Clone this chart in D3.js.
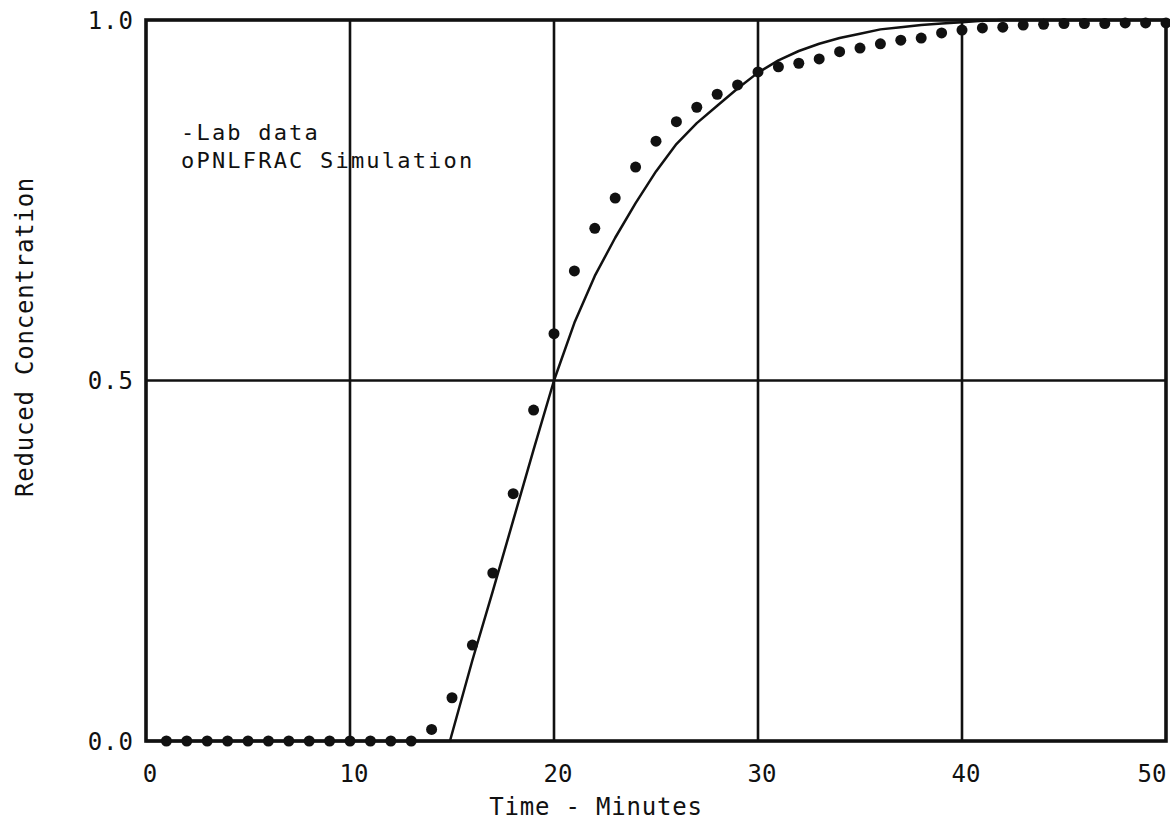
<!DOCTYPE html>
<html>
<head>
<meta charset="utf-8">
<script src="https://cdn.jsdelivr.net/npm/d3@7"></script>
<style>
  html, body { margin: 0; padding: 0; background: #fff; }
  svg text { font-family: "DejaVu Sans Mono", monospace; fill: #111; }
</style>
</head>
<body>
<div id="chart"></div>
<script>
// simulation points, one per minute
const simMinutes = d3.range(1, 51);
const simValues = [
  0, 0, 0, 0, 0, 0, 0, 0, 0, 0,
  0, 0, 0, 0.016, 0.06, 0.133, 0.233, 0.343, 0.459, 0.565,
  0.652, 0.711, 0.753, 0.796, 0.832, 0.859, 0.879, 0.897, 0.91, 0.928,
  0.935, 0.94, 0.946, 0.956, 0.961, 0.967, 0.972, 0.975, 0.982, 0.986,
  0.989, 0.99, 0.993, 0.994, 0.995, 0.995, 0.995, 0.996, 0.996, 0.996,
];

// lab data curve
const labMinutes = [0, 14.9, 16, 17, 18, 19, 20, 21, 22, 23, 24, 25, 26, 27, 28, 29, 30, 31, 32, 33, 34, 35, 36, 37, 38, 39, 40, 41, 42, 50];
const labValues = [0, 0, 0.112, 0.208, 0.306, 0.404, 0.5, 0.58, 0.645, 0.698, 0.746, 0.79, 0.828, 0.857, 0.881, 0.905, 0.927, 0.944, 0.957, 0.967, 0.975, 0.981, 0.987, 0.99, 0.993, 0.995, 0.997, 0.999, 1, 1];

const xTicks = [0, 10, 20, 30, 40, 50];
const yTicks = [0, 0.5, 1.0];
const xGrid = [10, 20, 30, 40];
const yGrid = [0.5];
const legendLines = ["-Lab data", "oPNLFRAC Simulation"];

const width = 1170;
const height = 837;

const svg = d3
  .select("#chart")
  .append("svg")
  .attr("width", width)
  .attr("height", height);

const x = d3.scaleLinear().domain([0, 50]).range([146, 1166]);
const y = d3.scaleLinear().domain([0, 1]).range([741, 20]);

// grid
svg
  .selectAll("line.vgrid")
  .data(xGrid)
  .enter()
  .append("line")
  .attr("class", "vgrid")
  .attr("x1", (d) => x(d))
  .attr("x2", (d) => x(d))
  .attr("y1", y(0))
  .attr("y2", y(1))
  .style("stroke", "#111")
  .style("stroke-width", 2.6);

svg
  .selectAll("line.hgrid")
  .data(yGrid)
  .enter()
  .append("line")
  .attr("class", "hgrid")
  .attr("x1", x(0))
  .attr("x2", x(50))
  .attr("y1", (d) => y(d))
  .attr("y2", (d) => y(d))
  .style("stroke", "#111")
  .style("stroke-width", 2.4);

// frame
svg
  .append("rect")
  .attr("x", x(0))
  .attr("y", y(1))
  .attr("width", x(50) - x(0))
  .attr("height", y(0) - y(1))
  .style("fill", "none")
  .style("stroke", "#111")
  .style("stroke-width", 3.6);

// lab curve
const line = d3
  .line()
  .x((d, i) => x(labMinutes[i]))
  .y((d) => y(d));

svg
  .append("path")
  .datum(labValues)
  .attr("d", line)
  .style("fill", "none")
  .style("stroke", "#111")
  .style("stroke-width", 2.5)
  .style("stroke-linejoin", "round");

// simulation points
svg
  .selectAll("circle.sim")
  .data(simValues)
  .enter()
  .append("circle")
  .attr("class", "sim")
  .attr("cx", (d, i) => x(simMinutes[i]))
  .attr("cy", (d) => y(d))
  .attr("r", 5.5)
  .style("fill", "#111");

// axis labels
svg
  .selectAll("text.xtick")
  .data(xTicks)
  .enter()
  .append("text")
  .attr("class", "xtick")
  .attr("x", (d) => (d === 50 ? x(d) - 14 : x(d) + 4))
  .attr("y", 782)
  .attr("text-anchor", "middle")
  .style("font-size", "24px")
  .text((d) => d);

svg
  .selectAll("text.ytick")
  .data(yTicks)
  .enter()
  .append("text")
  .attr("class", "ytick")
  .attr("x", 134)
  .attr("y", (d) => y(d))
  .attr("dy", "0.36em")
  .attr("text-anchor", "end")
  .style("font-size", "24px")
  .style("letter-spacing", "1px")
  .text((d) => d.toFixed(1));

svg
  .append("text")
  .attr("x", 596)
  .attr("y", 815)
  .attr("text-anchor", "middle")
  .style("font-size", "24px")
  .style("letter-spacing", "0.8px")
  .text("Time - Minutes");

svg
  .append("text")
  .attr("transform", "translate(33, 337) rotate(-90)")
  .attr("text-anchor", "middle")
  .style("font-size", "24px")
  .style("letter-spacing", "0.8px")
  .text("Reduced Concentration");

// legend
svg
  .selectAll("text.legend")
  .data(legendLines)
  .enter()
  .append("text")
  .attr("class", "legend")
  .attr("x", 181)
  .attr("y", (d, i) => 140 + i * 28)
  .style("font-size", "22px")
  .style("letter-spacing", "2.2px")
  .text((d) => d);
</script>
</body>
</html>
